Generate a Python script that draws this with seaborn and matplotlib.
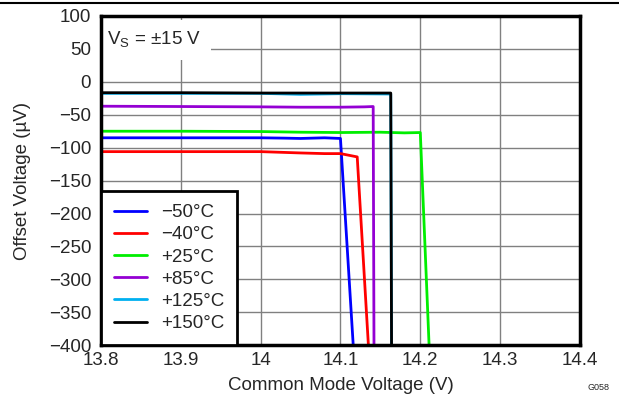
import seaborn as sns
import matplotlib.pyplot as plt

# Offset voltage (uV) vs common mode voltage (V)
labels = ['\u221250\u00b0C', '\u221240\u00b0C', '+25\u00b0C', '+85\u00b0C', '+125\u00b0C', '+150\u00b0C']
colors = ['#0000ff', '#ff0000', '#00ee00', '#9400d3', '#00b0f0', '#000000']

vcm_m50 = [13.80, 13.90, 14.00, 14.03, 14.05, 14.08, 14.10, 14.116]
vos_m50 = [-85, -85, -85, -85.5, -86, -85, -86, -400]

vcm_m40 = [13.80, 13.90, 14.00, 14.05, 14.08, 14.10, 14.121, 14.135]
vos_m40 = [-106, -106, -106, -108, -109, -109, -114, -400]

vcm_25 = [13.80, 13.90, 14.00, 14.05, 14.10, 14.15, 14.18, 14.20, 14.211]
vos_25 = [-75, -75, -75.5, -76.5, -77, -76.5, -77.5, -77, -400]

vcm_85 = [13.80, 13.90, 14.00, 14.05, 14.10, 14.13, 14.141, 14.142]
vos_85 = [-37, -37.5, -38, -38.5, -38.5, -38, -37.5, -400]

vcm_125 = [13.80, 13.90, 14.00, 14.05, 14.10, 14.163, 14.164]
vos_125 = [-17.5, -17.5, -17.5, -19, -18, -18.5, -400]

vcm_150 = [13.80, 13.90, 14.00, 14.05, 14.10, 14.163, 14.164]
vos_150 = [-16.5, -16.5, -17, -17, -17, -17, -400]

series = [(vcm_m50, vos_m50), (vcm_m40, vos_m40), (vcm_25, vos_25),
          (vcm_85, vos_85), (vcm_125, vos_125), (vcm_150, vos_150)]

sns.set_style('white')
plt.rcParams['font.family'] = ['Liberation Sans', 'DejaVu Sans']

fig, ax = plt.subplots(figsize=(6.19, 4), dpi=100)
fig.subplots_adjust(left=0.163, right=0.937, top=0.96, bottom=0.137)

# one call per series so each line keeps its point order
for lab, col, (xs, ys) in zip(labels, colors, series):
    sns.lineplot(x=xs, y=ys, color=col, linewidth=2, sort=False, estimator=None,
                 ax=ax, label=lab, zorder=3)

ax.set_xlim(13.8, 14.4)
ax.set_ylim(-400, 100)
ax.set_xticks([13.8, 13.9, 14.0, 14.1, 14.2, 14.3, 14.4])
ax.set_xticklabels(['13.8', '13.9', '14', '14.1', '14.2', '14.3', '14.4'])
ax.set_yticks(range(-400, 101, 50))
ax.set_yticklabels([str(v).replace('-', '\u2212') for v in range(-400, 101, 50)])
ax.tick_params(length=0, labelsize=13.5)
ax.tick_params(axis='y', pad=7)
ax.tick_params(axis='x', pad=5)
ax.grid(True, color='#808080', linewidth=1)
ax.set_axisbelow(True)
for s in ax.spines.values():
    s.set_color('black')
    s.set_linewidth(2.5)
    s.set_zorder(4)

ax.set_xlabel('Common Mode Voltage (V)', fontsize=13.5, labelpad=6)
ax.set_ylabel('Offset Voltage (\u00b5V)', fontsize=13.5, labelpad=13)

ax.text(0.0125, 0.927, 'V$_\\mathregular{S}$ = \u00b115 V', transform=ax.transAxes,
        fontsize=13.5, va='center', ha='left',
        zorder=1, bbox=dict(facecolor='white', edgecolor='none', pad=7))

leg = ax.legend(loc='lower left', bbox_to_anchor=(0.0, 0.0), fontsize=13.5, frameon=True,
                fancybox=False, edgecolor='black', handlelength=1.75, handletextpad=0.75,
                labelspacing=0.27, borderpad=0.7, borderaxespad=0)
leg.get_frame().set_linewidth(2)
leg.get_frame().set_alpha(1)
leg.set_zorder(5)

fig.lines.append(plt.Line2D([0, 1], [0.992, 0.992], transform=fig.transFigure, color='black', linewidth=1.5))
fig.text(0.985, 0.02, 'G058', fontsize=6.5, ha='right', va='bottom')

fig.savefig('out.png', dpi=100)
